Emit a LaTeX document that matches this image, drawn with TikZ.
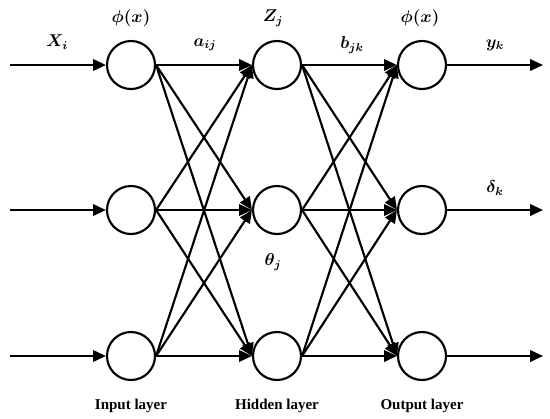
\documentclass[tikz,border=0pt]{standalone}
\usepackage{fontspec}
\setmainfont{Liberation Serif}
\usetikzlibrary{arrows.meta}

\begin{document}
\begin{tikzpicture}[
  x=0.7pt,y=-0.7pt,
  neuron/.style={draw,circle,line width=1.5pt,minimum size=33.6pt,inner sep=0pt},
  link/.style={-{Triangle[length=9pt,width=8pt]},line width=1.5pt},
  lbl/.style={font=\large\boldmath},
  layer/.style={font=\bfseries\fontsize{10.5}{12}\selectfont}
]
  \useasboundingbox (0,0) rectangle (550,418);

  % neurons
  \node[neuron] (in1) at (131,65) {};
  \node[neuron] (in2) at (131,210) {};
  \node[neuron] (in3) at (131,356) {};
  \node[neuron] (hid1) at (277,65) {};
  \node[neuron] (hid2) at (277,210) {};
  \node[neuron] (hid3) at (277,356) {};
  \node[neuron] (out1) at (422,65) {};
  \node[neuron] (out2) at (422,210) {};
  \node[neuron] (out3) at (422,356) {};

  % free ends
  \coordinate (src1) at (10,65);
  \coordinate (src2) at (10,210);
  \coordinate (src3) at (10,356);
  \coordinate (dst1) at (543,65);
  \coordinate (dst2) at (543,210);
  \coordinate (dst3) at (543,356);

  \draw[link] (src1) -- (in1);
  \draw[link] (src2) -- (in2);
  \draw[link] (src3) -- (in3);

  \draw[link] (in1.east) -- (hid1.west);
  \draw[link] (in1.east) -- (hid2.west);
  \draw[link] (in1.east) -- (hid3.west);
  \draw[link] (in2.east) -- (hid1.west);
  \draw[link] (in2.east) -- (hid2.west);
  \draw[link] (in2.east) -- (hid3.west);
  \draw[link] (in3.east) -- (hid1.west);
  \draw[link] (in3.east) -- (hid2.west);
  \draw[link] (in3.east) -- (hid3.west);

  \draw[link] (hid1.east) -- (out1.west);
  \draw[link] (hid1.east) -- (out2.west);
  \draw[link] (hid1.east) -- (out3.west);
  \draw[link] (hid2.east) -- (out1.west);
  \draw[link] (hid2.east) -- (out2.west);
  \draw[link] (hid2.east) -- (out3.west);
  \draw[link] (hid3.east) -- (out1.west);
  \draw[link] (hid3.east) -- (out2.west);
  \draw[link] (hid3.east) -- (out3.west);

  \draw[link] (out1) -- (dst1);
  \draw[link] (out2) -- (dst2);
  \draw[link] (out3) -- (dst3);

  % labels
  \node[lbl] (xi) at (57,42) {$X_i$};
  \node[lbl] (phiin) at (131,18) {$\phi(x)$};
  \node[lbl] (aij) at (205,45) {$a_{ij}$};
  \node[lbl] (zj) at (273,18) {$Z_j$};
  \node[lbl] (bjk) at (352,45) {$b_{jk}$};
  \node[lbl] (phiout) at (420,18) {$\phi(x)$};
  \node[lbl] (yk) at (495,45) {$y_k$};
  \node[lbl] (dk) at (495,188) {$\delta_k$};
  \node[lbl] (thj) at (273,262) {$\theta_j$};

  \node[layer] (inlay) at (131,406) {Input layer};
  \node[layer] (hidlay) at (277,406) {Hidden layer};
  \node[layer] (outlay) at (422,406) {Output layer};
\end{tikzpicture}
\end{document}
